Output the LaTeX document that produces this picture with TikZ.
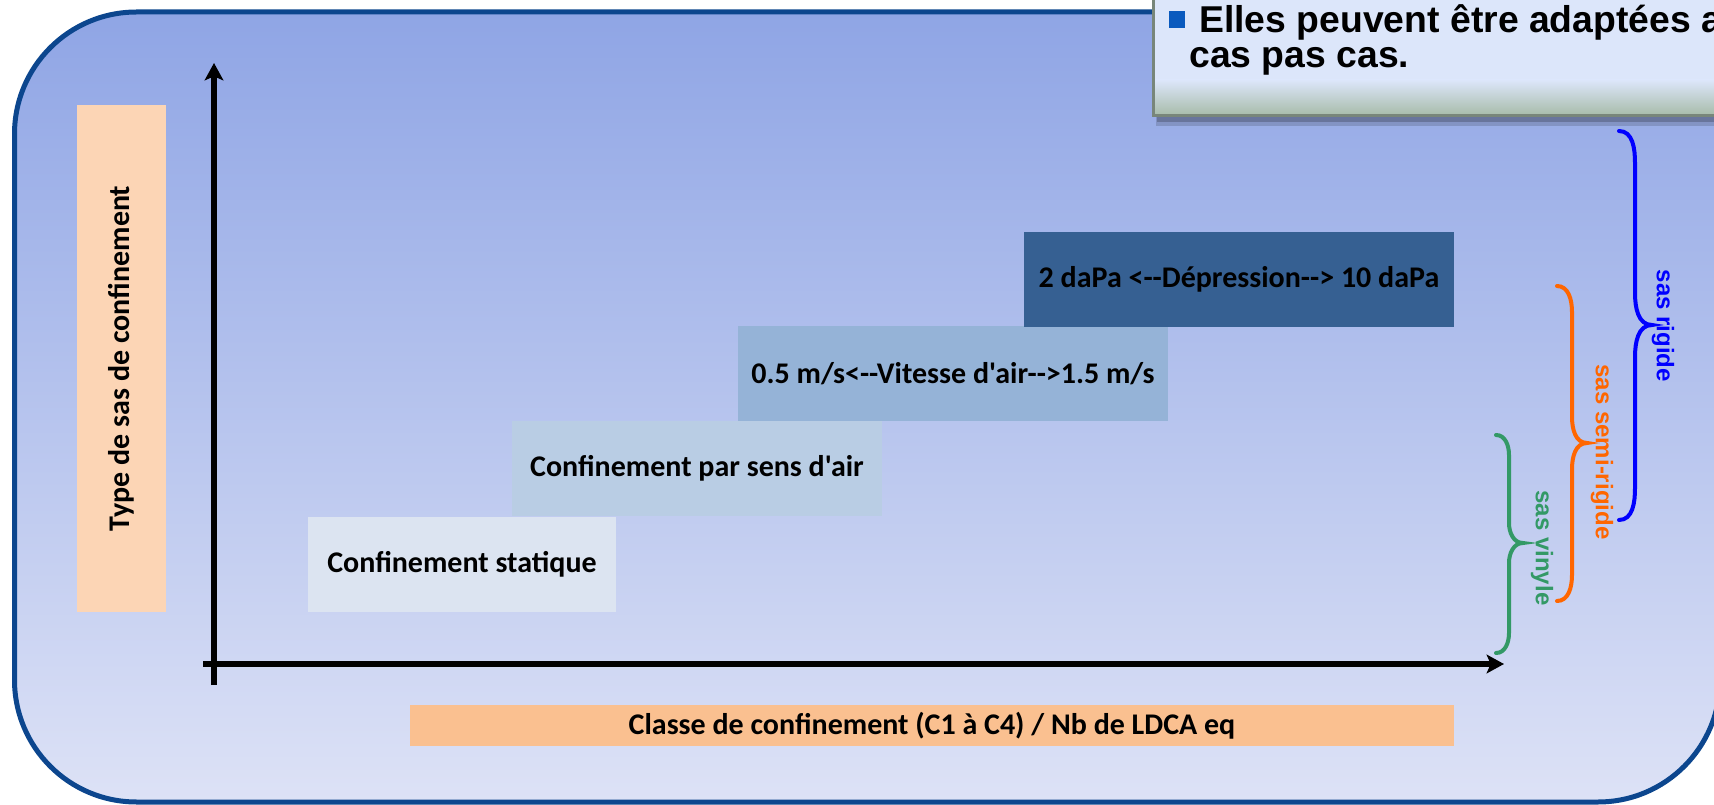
\documentclass[tikz,border=0pt]{standalone}
\usepackage{fontspec}
\newfontfamily\carl{Carlito}
\newfontfamily\arialf{Liberation Sans}
\usetikzlibrary{arrows.meta}
\definecolor{bgtop}{RGB}{143,165,229}
\definecolor{bgbot}{RGB}{221,226,246}
\definecolor{frameblue}{RGB}{12,70,142}
\definecolor{boxA}{RGB}{220,228,241}
\definecolor{boxB}{RGB}{185,205,228}
\definecolor{boxC}{RGB}{149,179,215}
\definecolor{boxD}{RGB}{54,96,146}
\definecolor{peachL}{RGB}{252,213,181}
\definecolor{peachB}{RGB}{250,192,144}
\definecolor{callfill}{RGB}{220,230,250}
\definecolor{callbot}{RGB}{168,188,170}
\definecolor{callline}{RGB}{120,134,122}
\definecolor{bulletblue}{RGB}{10,90,190}
\definecolor{bracegreen}{RGB}{51,153,102}
\definecolor{braceorange}{RGB}{255,102,0}
\definecolor{braceblue}{RGB}{0,0,255}
\begin{document}
\begin{tikzpicture}[x=0.75pt,y=-0.75pt,
  calfont/.style={font=\carl\bfseries\fontsize{22.5}{27}\selectfont},
  stepbox/.style={rectangle, inner sep=0pt, calfont, text=black, minimum height=71.25pt},
  axis/.style={line width=4.5pt, -{Stealth[length=13pt,width=14pt,inset=3pt]}},
  bracepath/.style={line width=3pt, line cap=round},
  sastext/.style={font=\arialf\bfseries\fontsize{18}{21}\selectfont, rotate=-90, inner sep=0pt},
  calltext/.style={font=\arialf\bfseries\fontsize{28}{32}\selectfont, anchor=base west, inner sep=0pt}]
\useasboundingbox (0,0) rectangle (1714,805);
\clip (0,0) rectangle (1714,805);
% frame
\shade[top color=bgtop, bottom color=bgbot, rounded corners=91.5pt] (14.5,12) rectangle (1720,802);
\draw[frameblue, line width=3.75pt, rounded corners=91.5pt] (14.5,12) rectangle (1720,802);
% callout box
\fill[black, opacity=0.15] (1156,-10) rectangle (1730,126);
\fill[black, opacity=0.2] (1157,-10) rectangle (1730,122);
\fill[callfill] (1153,-10) rectangle (1730,116);
\shade[top color=callfill, bottom color=callbot] (1153,80) rectangle (1730,115);
\draw[callline, line width=2.25pt] (1153,-10) rectangle (1730,116);
\fill[bulletblue] (1169,11) rectangle (1185,28);
\node[calltext] (call1) at (1199,33) {Elles peuvent être adaptées a};
\node[calltext] (call2) at (1189,68) {cas pas cas.};
% labels
\node[fill=peachL, rotate=90, minimum width=380.25pt, minimum height=66.75pt, inner sep=0pt, calfont] (ylab) at (121.5,358.5) {Type de sas de confinement};
\node[fill=peachB, minimum width=783pt, minimum height=30.75pt, inner sep=0pt, calfont] (xlab) at (932,725.5) {Classe de confinement (C1 à C4) / Nb de LDCA eq};
% step boxes
\node[stepbox, fill=boxA, minimum width=231pt] (s1) at (462,564.5) {Confinement statique};
\node[stepbox, fill=boxB, minimum width=277.5pt] (s2) at (697,468.5) {Confinement par sens d'air};
\node[stepbox, fill=boxC, minimum width=322.5pt] (s3) at (953,373.5) {0.5 m/s<-{}-Vitesse d'air-{}->1.5 m/s};
\node[stepbox, fill=boxD, minimum width=322.5pt] (s4) at (1239,279.5) {2 daPa <-{}-Dépression-{}-> 10 daPa};
% axes
\coordinate (yfoot) at (214,685);
\coordinate (ytop) at (214,63);
\coordinate (xfoot) at (203,664);
\coordinate (xend) at (1504,664);
\draw[axis] (yfoot) -- (ytop);
\draw[axis] (xfoot) -- (xend);
% braces
\draw[bracepath, braceblue] (1619,131) to[out=0,in=90] (1635,163) -- (1635,293) to[out=-90,in=180] (1652,325) to[out=180,in=90] (1635,357) -- (1635,488) to[out=-90,in=0] (1619,520);
\draw[bracepath, braceorange] (1557,286) to[out=0,in=90] (1572,312) -- (1572,417) to[out=-90,in=180] (1587,443) to[out=180,in=90] (1572,469) -- (1572,575) to[out=-90,in=0] (1557,601);
\draw[bracepath, bracegreen] (1496,435) to[out=0,in=90] (1509,455) -- (1509,523) to[out=-90,in=180] (1523,543) to[out=180,in=90] (1509,563) -- (1509,633) to[out=-90,in=0] (1496,653);
\node[sastext, text=braceblue] (lrig) at (1663,326) {sas rigide};
\node[sastext, text=braceorange] (lsemi) at (1602,452) {sas semi-rigide};
\node[sastext, text=bracegreen] (lvin) at (1542,548) {sas vinyle};
\end{tikzpicture}
\end{document}
